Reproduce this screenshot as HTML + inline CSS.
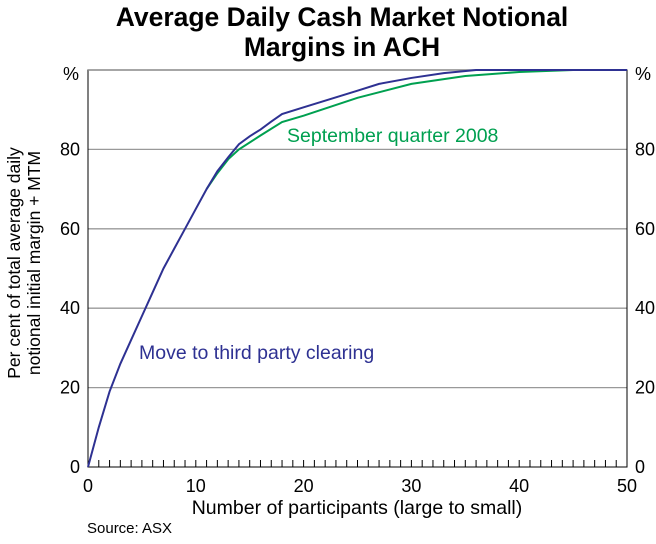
<!DOCTYPE html>
<html><head><meta charset="utf-8"><style>
body{margin:0;background:#fff;font-family:"Liberation Sans",Arial,sans-serif}
</style></head><body>
<svg width="656" height="539" viewBox="0 0 656 539" style="font-family:'Liberation Sans',Arial,sans-serif">
<text x="342" y="26" text-anchor="middle" font-size="26.5" font-weight="bold">Average Daily Cash Market Notional</text>
<text x="342" y="56" text-anchor="middle" font-size="26.5" font-weight="bold">Margins in ACH</text>
<g id="grid"></g>
<g id="axes"></g>
<g id="series"></g>
<text x="287" y="142" font-size="19.5" fill="#00a050">September quarter 2008</text>
<text x="139" y="359" font-size="19.5" fill="#2e3192">Move to third party clearing</text>
<text transform="translate(20,263) rotate(-90)" text-anchor="middle" font-size="17.5">Per cent of total average daily</text>
<text transform="translate(40,263) rotate(-90)" text-anchor="middle" font-size="17.5">notional initial margin + MTM</text>
<text x="357" y="514" text-anchor="middle" font-size="19.5">Number of participants (large to small)</text>
<text x="87" y="533" font-size="15">Source: ASX</text>
</svg>
<script>
const yTicks=[0,20,40,60,80];
const xTicks=[0,10,20,30,40,50];
const blueX=[0,1,2,3,4,5,6,7,8,9,10,11,12,13,14,15,16,17,18,20,25,27,30,33,36,50];
const blueY=[0,10,19,26,32,38,44,50,55,60,65,70,74.5,78,81.3,83.3,85,87,88.9,90.6,94.8,96.5,98,99.2,100,100];
const greenX=[11,12,13,14,16,18,20,25,30,35,40,45,50];
const greenY=[70,74,77.5,80,83.5,86.9,88.5,93,96.5,98.5,99.5,100,100];
const L=88,R=627,T=70,B=467;
const sx=v=>L+(v/50)*(R-L), sy=v=>B-(v/100)*(B-T);
const NS="http://www.w3.org/2000/svg";
function mk(p,t,a){const e=document.createElementNS(NS,t);for(const k in a)e.setAttribute(k,a[k]);document.getElementById(p).appendChild(e);return e;}
yTicks.forEach(v=>{
 if(v>0){const g=mk('grid','line',{x1:L,x2:R,y1:sy(v),y2:sy(v),stroke:'#999','stroke-width':1.3});
 
 }
 const a=mk('axes','text',{x:80,y:sy(v)+6,'text-anchor':'end','font-size':18});a.textContent=v;
 
 
 const b=mk('axes','text',{x:635,y:sy(v)+6,'font-size':18});b.textContent=v;
 
 
});
let p1=mk('axes','text',{x:63,y:sy(100)+10,'font-size':18});p1.textContent='%';


let p2=mk('axes','text',{x:635,y:sy(100)+10,'font-size':18});p2.textContent='%';


let fr=mk('axes','rect',{x:L,y:T,width:R-L,height:B-T,fill:'none',stroke:'#000','stroke-width':1});


mk('axes','line',{x1:L,x2:R,y1:T,y2:T,stroke:'#888','stroke-width':1.5});
for(let i=1;i<50;i++){const t=mk('axes','line',{x1:sx(i),x2:sx(i),y1:B,y2:B-7,stroke:'#000','stroke-width':1});
 
 }
xTicks.forEach(v=>{const t=mk('axes','text',{x:sx(v),y:B+25,'text-anchor':'middle','font-size':18});t.textContent=v;
 
 });
const pts=(xs,ys)=>xs.map((x,i)=>sx(x)+','+sy(ys[i])).join(' ');
const g=mk('series','polyline',{points:pts(greenX,greenY),fill:'none',stroke:'#00a050','stroke-width':2});


const b=mk('series','polyline',{points:pts(blueX,blueY),fill:'none',stroke:'#2e3192','stroke-width':2});


</script>
</body></html>
